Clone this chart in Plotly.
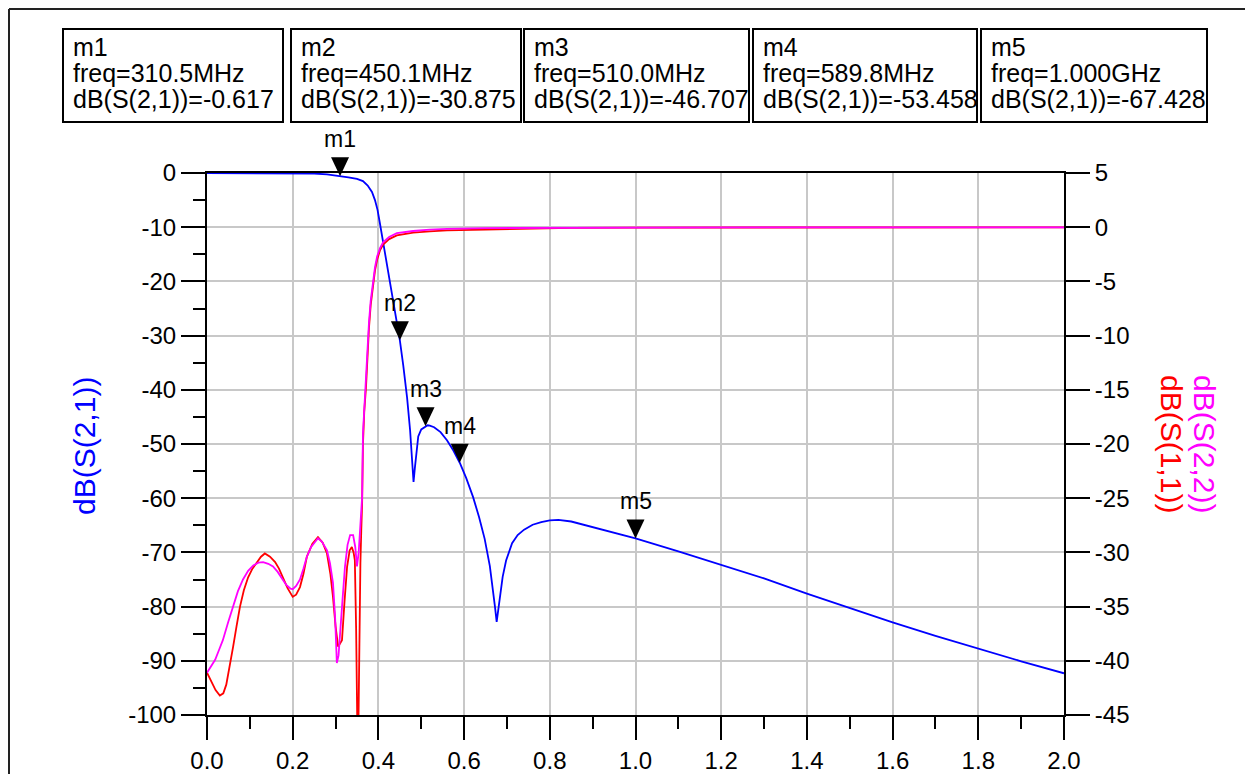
import plotly.graph_objects as go

# ---------------- data ----------------
freq_s21 = [0.00, 0.05, 0.10, 0.15, 0.20, 0.25, 0.28, 0.30, 0.3105, 0.33, 0.35, 0.364, 0.375,
            0.385, 0.392, 0.398, 0.404, 0.410, 0.415, 0.421, 0.427, 0.433, 0.439, 0.4501,
            0.458, 0.467, 0.474, 0.478, 0.482, 0.485, 0.488, 0.493, 0.500, 0.510, 0.515,
            0.520, 0.530, 0.545, 0.560, 0.575, 0.5898, 0.605, 0.621, 0.635, 0.648, 0.660,
            0.668, 0.672, 0.676, 0.680, 0.684, 0.690, 0.698, 0.712, 0.725, 0.740, 0.760,
            0.780, 0.800, 0.820, 0.850, 0.880, 0.910, 0.950, 1.000, 1.10, 1.20, 1.30, 1.40,
            1.50, 1.60, 1.70, 1.80, 1.90, 2.00]
s21_db = [0.0, 0.0, 0.0, 0.0, -0.05, -0.1, -0.25, -0.45, -0.617, -0.8, -1.1, -1.5, -2.3,
          -3.5, -5.0, -6.8, -9.5, -12.3, -14.5, -17.3, -20.3, -22.9, -25.5, -30.875,
          -35.5, -41.5, -47.5, -52.0, -57.0, -54.5, -51.8, -48.6, -47.3, -46.707, -46.55,
          -46.6, -46.9, -47.8, -49.3, -51.2, -53.458, -56.3, -59.8, -63.5, -67.5, -72.5,
          -77.0, -80.0, -82.8, -80.5, -77.5, -74.5, -71.5, -68.3, -66.8, -65.8, -64.9,
          -64.4, -64.1, -64.0, -64.3, -64.9, -65.6, -66.3, -67.428, -69.8, -72.3, -74.8, -77.6,
          -80.3, -82.9, -85.4, -87.8, -90.1, -92.3]

freq_s11 = [0.000, 0.010, 0.020, 0.030, 0.038, 0.045, 0.053, 0.061, 0.069, 0.077, 0.086, 0.096,
            0.106, 0.117, 0.126, 0.135, 0.147, 0.159, 0.168, 0.177, 0.188, 0.200, 0.208, 0.217,
            0.225, 0.233, 0.246, 0.259, 0.270, 0.280, 0.288, 0.294, 0.300, 0.306, 0.311, 0.315,
            0.321, 0.327, 0.333, 0.338, 0.342, 0.345, 0.348, 0.350, 0.352, 0.354, 0.356, 0.358,
            0.360, 0.362, 0.364, 0.367, 0.371, 0.375, 0.378, 0.382, 0.387, 0.392, 0.397, 0.404,
            0.411, 0.425, 0.443, 0.481, 0.520, 0.560, 0.650, 0.800, 0.850, 1.000, 1.500, 2.000]
s11_db = [-41.1, -41.9, -42.7, -43.2, -43.0, -42.2, -40.6, -38.7, -36.8, -35.0, -33.5, -32.3,
          -31.5, -30.9, -30.4, -30.1, -30.4, -30.9, -31.5, -32.3, -33.3, -34.1, -33.9, -33.2,
          -32.0, -30.4, -29.2, -28.6, -29.1, -30.1, -32.0, -34.1, -36.8, -38.7, -38.4, -38.1,
          -34.5, -31.3, -29.8, -29.5, -30.0, -30.7, -37.0, -43.6, -50.0, -44.0, -36.0, -31.0,
          -28.0, -25.5, -20.0, -17.0, -14.8, -11.5, -9.3, -7.2, -5.4, -4.0, -3.0, -2.1,
          -1.6, -1.1, -0.75, -0.5, -0.38, -0.3, -0.22, -0.12, -0.06, -0.03, -0.02, -0.02]

freq_s22 = [0.000, 0.010, 0.019, 0.028, 0.037, 0.049, 0.061, 0.072, 0.084, 0.096, 0.108, 0.120,
            0.131, 0.143, 0.154, 0.165, 0.175, 0.185, 0.195, 0.200, 0.208, 0.217, 0.225, 0.233,
            0.243, 0.252, 0.259, 0.268, 0.280, 0.287, 0.294, 0.299, 0.303, 0.307, 0.310, 0.316,
            0.322, 0.328, 0.334, 0.341, 0.346, 0.350, 0.354, 0.357, 0.360, 0.362, 0.364, 0.367,
            0.371, 0.375, 0.378, 0.382, 0.387, 0.392, 0.397, 0.404, 0.411, 0.425, 0.443, 0.481,
            0.520, 0.560, 0.650, 0.800, 1.000, 1.500, 2.000]
s22_db = [-41.1, -40.5, -39.9, -39.0, -38.1, -36.5, -35.0, -33.6, -32.5, -31.7, -31.2, -30.95,
          -30.9, -31.05, -31.3, -31.8, -32.4, -33.0, -33.35, -33.4, -33.1, -32.5, -31.5, -30.4,
          -29.5, -29.0, -28.7, -29.0, -29.8, -31.0, -32.8, -36.0, -40.2, -39.5, -38.1, -34.5,
          -31.3, -29.3, -28.4, -28.4, -29.5, -31.3, -30.0, -28.2, -26.5, -24.9, -19.0, -16.5,
          -14.4, -11.0, -8.8, -6.8, -5.1, -3.7, -2.7, -1.9, -1.4, -0.9, -0.55, -0.35,
          -0.22, -0.15, -0.08, -0.05, -0.03, -0.02, -0.02]

marker_names = ["m1", "m2", "m3", "m4", "m5"]
marker_freq = [0.3105, 0.4501, 0.5100, 0.5898, 1.000]
marker_db = [-0.617, -30.875, -46.707, -53.458, -67.428]

x_ticks = [0.0, 0.2, 0.4, 0.6, 0.8, 1.0, 1.2, 1.4, 1.6, 1.8, 2.0]
y_ticks = [-100, -90, -80, -70, -60, -50, -40, -30, -20, -10, 0]
y2_ticks = [-45, -40, -35, -30, -25, -20, -15, -10, -5, 0, 5]

x_range = [0, 2]
y_range = [-100, 0]
y2_range = [-45, 5]

# ---------------- layout geometry (page pixels; page has an 8px body margin) ----------------
PAGE_W, PAGE_H = 1253, 774
OFF = 8
W, H = PAGE_W - OFF, PAGE_H - OFF
L, R, T, B = 207, 1064, 173, 715          # plot area in page pixels
FONT = "Liberation Sans, Arial, sans-serif"
BLUE, RED, MAG = "#0000FF", "#FF0000", "#FF00FF"


def px(x):
    return (x - L) / (R - L)


def py(y):
    return (B - y) / (B - T)


fig = go.Figure()
fig.add_trace(go.Scatter(x=freq_s11, y=s11_db, mode="lines", yaxis="y2",
                         line=dict(color=RED, width=1.8), name="dB(S(1,1))"))
fig.add_trace(go.Scatter(x=freq_s22, y=s22_db, mode="lines", yaxis="y2",
                         line=dict(color=MAG, width=1.8), name="dB(S(2,2))"))
fig.add_trace(go.Scatter(x=freq_s21, y=s21_db, mode="lines",
                         line=dict(color=BLUE, width=1.8), name="dB(S(2,1))"))

shapes = []
annotations = []

# marker triangles (tip on the data point) and labels
for name, f, v in zip(marker_names, marker_freq, marker_db):
    xa = (f - x_range[0]) / (x_range[1] - x_range[0])
    ya = (v - y_range[0]) / (y_range[1] - y_range[0])
    shapes.append(dict(type="path", xref="paper", yref="paper", xsizemode="pixel",
                       ysizemode="pixel", xanchor=xa, yanchor=ya,
                       path="M -9 19 L 9 19 L 0 0 Z",
                       fillcolor="black", line=dict(width=0), layer="above"))
    annotations.append(dict(x=f, y=v, xref="x", yref="y", text=name, showarrow=False,
                            yanchor="middle", xanchor="center", yshift=37,
                            font=dict(size=23, color="black", family=FONT)))

# marker readout boxes
box_left = [63, 291, 524, 753, 981]
box_right = [283, 521, 749, 977, 1207]
box_top, box_bottom = 29, 122
line_y = [47, 73, 99]


def fmt_freq(f):
    return f"{f * 1000:.1f}MHz" if f < 1 else f"{f:.3f}GHz"


for i, (name, f, v) in enumerate(zip(marker_names, marker_freq, marker_db)):
    shapes.append(dict(type="rect", xref="paper", yref="paper",
                       x0=px(box_left[i]), x1=px(box_right[i]),
                       y0=py(box_bottom), y1=py(box_top),
                       line=dict(color="black", width=2), fillcolor="rgba(0,0,0,0)"))
    lines = [name, f"freq={fmt_freq(f)}", f"dB(S(2,1))={v:.3f}"]
    for t, yy in zip(lines, line_y):
        annotations.append(dict(x=px(box_left[i] + 8), y=py(yy), xref="paper", yref="paper",
                                text=t, showarrow=False, xanchor="left", yanchor="middle",
                                font=dict(size=25, color="black", family=FONT)))

# axis titles
annotations.append(dict(x=px(84), y=py(446), xref="paper", yref="paper", text="dB(S(2,1))",
                        textangle=-90, showarrow=False, xanchor="center", yanchor="middle",
                        font=dict(size=30, color=BLUE, family=FONT)))
annotations.append(dict(x=px(1172), y=py(444), xref="paper", yref="paper", text="dB(S(1,1))",
                        textangle=90, showarrow=False, xanchor="center", yanchor="middle",
                        font=dict(size=30, color=RED, family=FONT)))
annotations.append(dict(x=px(1205), y=py(444), xref="paper", yref="paper", text="dB(S(2,2))",
                        textangle=90, showarrow=False, xanchor="center", yanchor="middle",
                        font=dict(size=30, color=MAG, family=FONT)))

# outer frame (top and left edges)
shapes.append(dict(type="line", xref="paper", yref="paper", x0=px(9), x1=px(PAGE_W), y0=py(9), y1=py(9),
                   line=dict(color="#222222", width=2)))
shapes.append(dict(type="line", xref="paper", yref="paper", x0=px(9), x1=px(9), y0=py(9), y1=py(PAGE_H),
                   line=dict(color="#222222", width=2)))

tickfont = dict(size=24, color="black", family=FONT)
fig.update_layout(
    width=W, height=H,
    margin=dict(l=L - OFF, r=PAGE_W - R, t=T - OFF, b=PAGE_H - B, pad=0, autoexpand=False),
    paper_bgcolor="white", plot_bgcolor="white",
    showlegend=False,
    font=dict(family=FONT, color="black"),
    xaxis=dict(range=x_range, tickvals=x_ticks, ticktext=[f"{t:.1f}" for t in x_ticks],
               showgrid=True, gridcolor="#c8c8c8", gridwidth=2,
               showline=True, linecolor="black", linewidth=2, mirror=True,
               ticks="outside", ticklen=23, tickwidth=2, tickcolor="black",
               minor=dict(dtick=0.1, ticks="outside", ticklen=12, tickwidth=2,
                          tickcolor="black", showgrid=False),
               zeroline=False, tickfont=tickfont),
    yaxis=dict(range=y_range, tickvals=y_ticks, ticktext=[str(t) for t in y_ticks],
               showgrid=True, gridcolor="#c8c8c8", gridwidth=2,
               showline=True, linecolor="black", linewidth=2,
               ticks="outside", ticklen=24, tickwidth=2, tickcolor="black",
               minor=dict(dtick=5, ticks="outside", ticklen=12, tickwidth=2,
                          tickcolor="black", showgrid=False),
               zeroline=False, tickfont=tickfont),
    yaxis2=dict(range=y2_range, tickvals=y2_ticks, ticktext=[str(t) for t in y2_ticks],
                overlaying="y", side="right", showgrid=False,
                showline=True, linecolor="black", linewidth=2,
                ticks="outside", ticklen=24, tickwidth=2, tickcolor="black",
                zeroline=False, tickfont=tickfont),
    shapes=shapes,
    annotations=annotations,
)

fig.write_html("out.html")
